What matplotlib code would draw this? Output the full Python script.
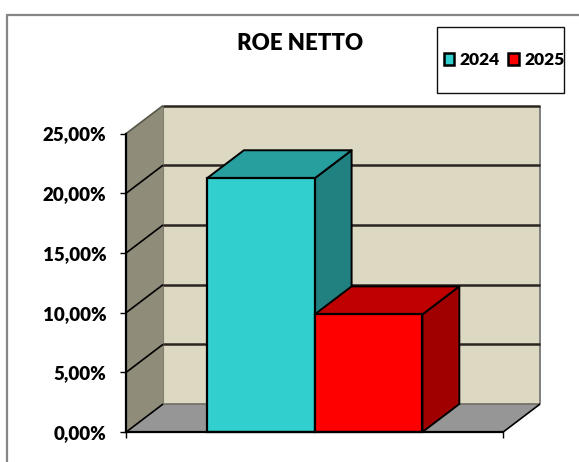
import matplotlib
matplotlib.use("Agg")
from matplotlib import pyplot as plt
from matplotlib.patches import Patch, Polygon, Rectangle

W, H = 579, 462

years = ["2024", "2025"]
roe = [21.25, 9.85]
y_ticks = [0, 5, 10, 15, 20, 25]
y_labels = ["0,00%", "5,00%", "10,00%", "15,00%", "20,00%", "25,00%"]

front = ["#31D0CF", "#FF0000"]
top = ["#279F9E", "#C00000"]
side = ["#218180", "#A00000"]

WALL = "#DDD8C2"
SIDE_WALL = "#8F8C7A"
FLOOR = "#969696"
GRID = "#2A2520"

# depth of the fake 3d box, in data units
DX = 37 / 108
DY = 28 / 11.94
X0, X1 = -1.25, 2.25
Y0, Y1 = 0, 25

plt.rcParams["font.family"] = ["Lato", "DejaVu Sans"]
plt.rcParams["font.weight"] = 800

fig = plt.figure(figsize=(W / 100, H / 100), dpi=100)
fig.patches.append(Rectangle((7.5 / W, -0.1), 0.99, 1 - 14.5 / H + 0.1, transform=fig.transFigure,
                             fill=False, edgecolor="#868686", linewidth=1.6))

ax = fig.add_axes((126.2 / W, 1 - 432 / H, 377 / W, 298.5 / H))
ax.set_xlim(X0, X1)
ax.set_ylim(Y0, Y1)
ax.patch.set_visible(False)


def poly(pts, fc, ec="none", lw=0.0, z=1):
    ax.add_patch(Polygon(pts, closed=True, facecolor=fc, edgecolor=ec, linewidth=lw,
                         zorder=z, clip_on=False, joinstyle="round"))


def line(xs, ys, color=GRID, lw=1.6, z=2):
    ax.plot(xs, ys, color=color, linewidth=lw, zorder=z, clip_on=False, solid_capstyle="butt")


# walls and floor
poly([(X0 + DX, Y0 + DY), (X1 + DX, Y0 + DY), (X1 + DX, Y1 + DY), (X0 + DX, Y1 + DY)], WALL)
poly([(X0, Y0), (X0 + DX, Y0 + DY), (X0 + DX, Y1 + DY), (X0, Y1)], SIDE_WALL)
poly([(X0, Y0), (X1, Y0), (X1 + DX, Y0 + DY), (X0 + DX, Y0 + DY)], FLOOR)
line([X1 + DX, X1 + DX], [Y0 + DY, Y1 + DY], color="#7F7F7F", lw=1.4)
line([X0 + DX, X1 + DX], [Y0 + DY, Y0 + DY], color="#6E6E64", lw=1.2)
line([X0 + DX, X0 + DX], [Y0 + DY, Y1 + DY], color="#80806F", lw=0.8)

for t in y_ticks:
    line([X0, X0 + DX], [t, t + DY], color="#000000" if t < 25 else "#55554A", lw=1.2)
    if t > 0:
        line([X0 + DX, X1 + DX], [t + DY, t + DY], lw=1.8)
line([X1, X1 + DX], [Y0, Y0 + DY], color="#000000", lw=1.2)

# bars
for i, v in enumerate(roe):
    l, r = i - 0.5, i + 0.5
    poly([(r, 0), (r + DX, DY), (r + DX, v + DY), (r, v)], side[i], "#000000", 1.4, z=3 + i)
    poly([(l, v), (r, v), (r + DX, v + DY), (l + DX, v + DY)], top[i], "#000000", 1.4, z=3 + i)
    ax.bar(i, v, width=1, color=front[i], edgecolor="#000000", linewidth=1.6, zorder=3 + i, clip_on=False)

for s in ("top", "right"):
    ax.spines[s].set_visible(False)
ax.spines["left"].set_linewidth(1.6)
ax.spines["bottom"].set_linewidth(1.6)
ax.spines["left"].set_zorder(6)
ax.spines["bottom"].set_zorder(6)
ax.set_yticks(y_ticks, y_labels)
ax.set_xticks([X0, X1], ["", ""])
ax.tick_params(axis="y", length=4.2, width=1, labelsize=13.5, pad=10, colors="black")
ax.tick_params(axis="x", length=4, width=1)

fig.text(300 / W, 1 - 44 / H, "ROE NETTO", ha="center", va="center", fontsize=16)

# legend box is taller than its content, so the frame is drawn apart
fig.patches.append(Rectangle((436.5 / W, 1 - 93 / H), 127.5 / W, 66 / H, transform=fig.transFigure,
                             facecolor="white", edgecolor="#111111", linewidth=1.0))
handles = [Patch(facecolor=c, edgecolor="black", linewidth=1.8) for c in front]
fig.legend(handles, years, ncol=2, frameon=False, loc="center", bbox_to_anchor=(504 / W, 1 - 60 / H),
           fontsize=12.5, handlelength=0.62, handleheight=0.62, handletextpad=0.3, columnspacing=0.5,
           borderpad=0, borderaxespad=0)

fig.savefig("out.png", dpi=100)
